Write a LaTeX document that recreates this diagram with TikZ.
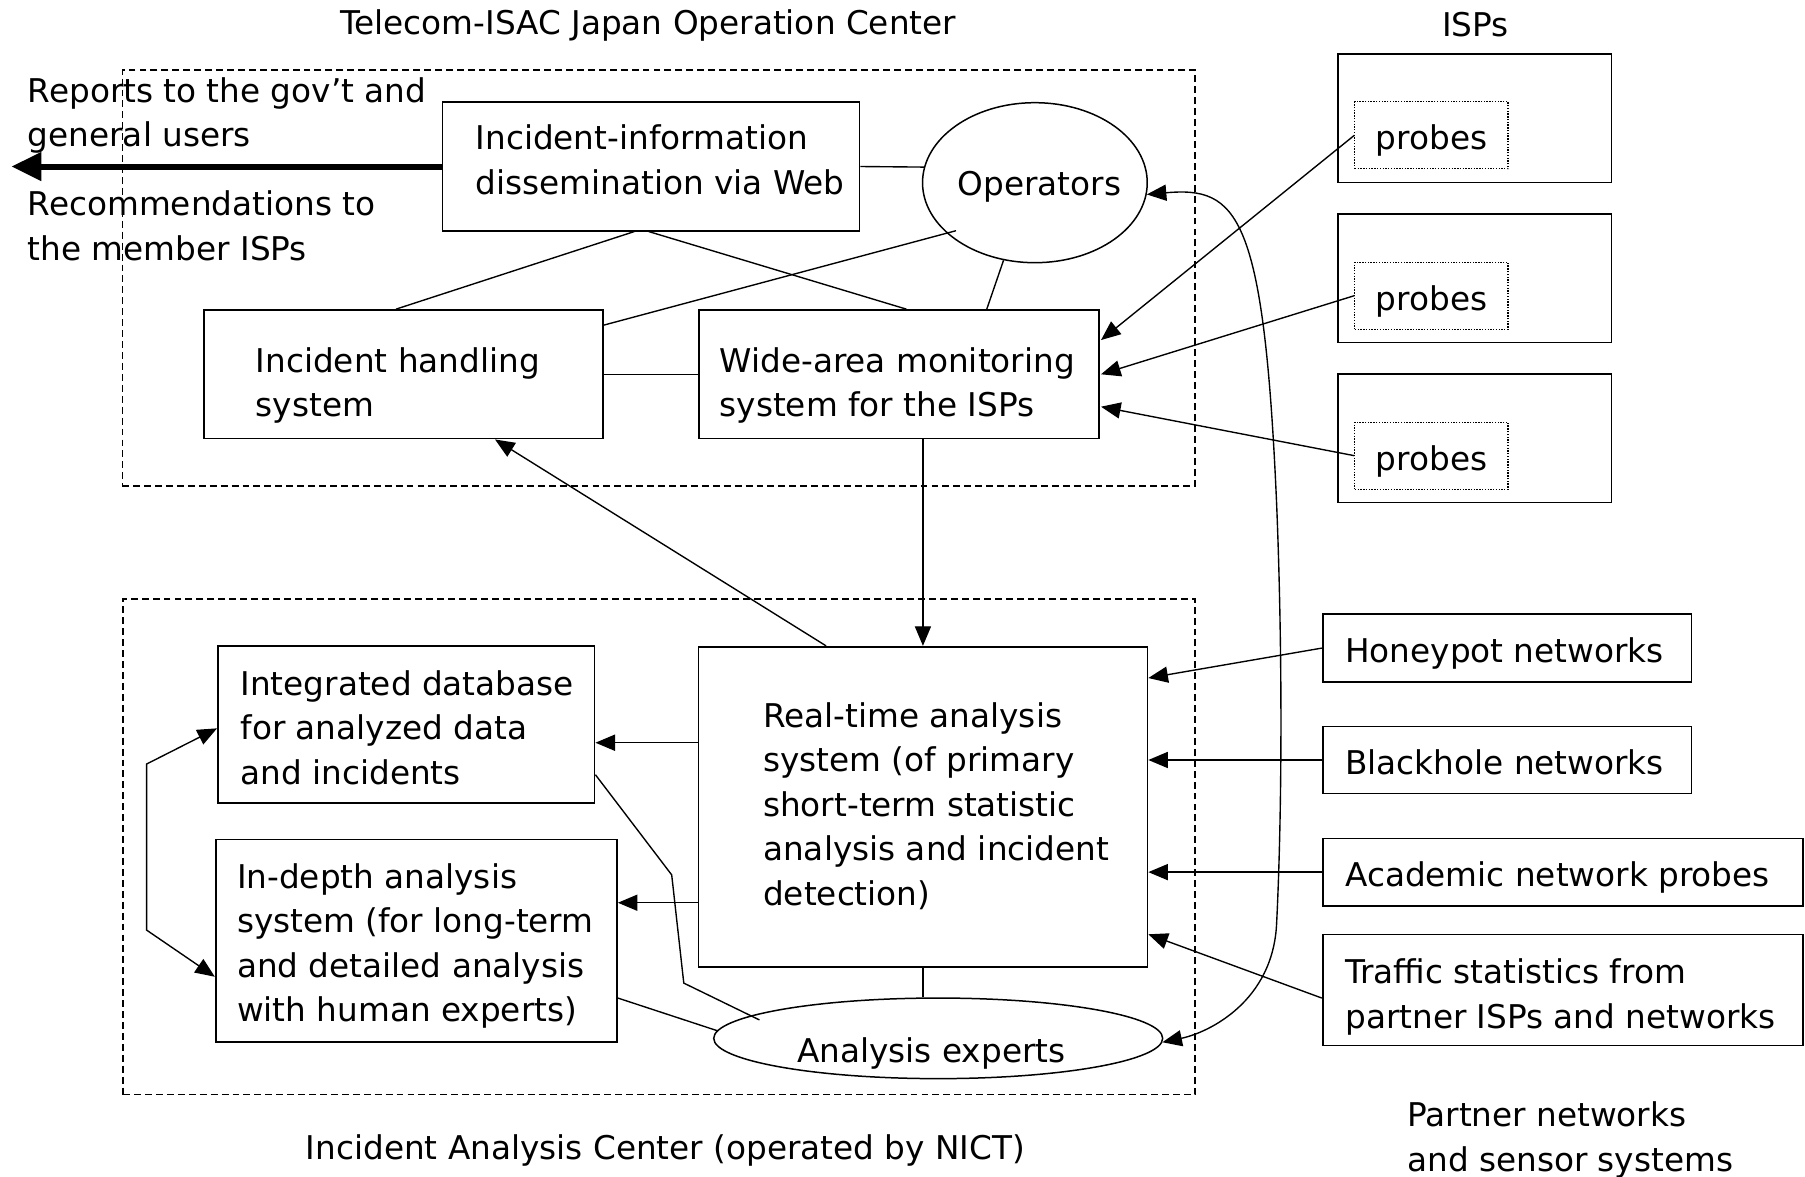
\documentclass[tikz,border=0pt]{standalone}
\usepackage{fontspec}
\setmainfont{DejaVu Sans}
\usetikzlibrary{arrows.meta,shapes.geometric,calc}
\begin{document}
\begin{tikzpicture}[x=1pt,y=-1pt,
  every node/.style={font=\fontsize{28.4}{38.7}\selectfont},
  box/.style={draw,line width=1.5pt,inner sep=0pt},
  txt/.style={inner sep=0pt,align=left,anchor=west},
  lbl/.style={inner sep=0pt},
  ell/.style={draw,ellipse,line width=1.3pt,inner sep=0pt},
  grp/.style={draw,line width=1.2pt,dash pattern=on 6pt off 3.5pt,inner sep=0pt},
  probebox/.style={draw,line width=1pt,dash pattern=on 1.2pt off 1.2pt,inner sep=0pt,minimum width=133pt,minimum height=58.3pt,text height=25pt,text depth=0pt},
  conn/.style={line width=1.2pt},
  arr/.style={conn,-{Triangle[length=17pt,width=14pt]}},
  darr/.style={conn,{Triangle[length=17pt,width=14pt]}-{Triangle[length=17pt,width=14pt]}},
  thickarr/.style={line width=5.2pt,-{Triangle[length=26pt,width=24pt]}}
]
\fill[white] (0,0) rectangle (1568,1021.6);
\useasboundingbox (0,0) rectangle (1568,1021.6);

% groups
\node[grp,minimum width=931.8pt,minimum height=361.4pt] (opc) at (572.1,241.5) {};
\node[grp,minimum width=931pt,minimum height=430.6pt] (iac) at (572.5,735.7) {};

% titles
\node[lbl] (opc-t) at (563,22) {Telecom-ISAC Japan Operation Center};
\node[lbl] (isp-t) at (1281.7,21.7) {ISPs};
\node[lbl] (iac-t) at (578,999) {Incident Analysis Center (operated by NICT)};
\node[txt] (par-t) at (1222.3,990.5) {Partner networks\\and sensor systems};
\node[txt] (rep) at (24,100.2) {Reports to the gov’t and\\general users};
\node[txt] (rec) at (24,196.2) {Recommendations to\\the member ISPs};

% top section
\node[box,minimum width=362.1pt,minimum height=111.5pt] (web) at (565.55,144.65) {};
\node[txt] (web-t) at (413,138.7) {Incident-information\\dissemination via Web};
\node[ell,minimum width=195.2pt,minimum height=139pt] (ops) at (899,158.7) {};
\node[lbl] (ops-t) at (903,162.5) {Operators};
\node[box,minimum width=346.7pt,minimum height=111.7pt] (ih) at (350.35,325.15) {};
\node[txt] (ih-t) at (222,335) {Incident handling\\system};
\node[box,minimum width=347.7pt,minimum height=111.7pt] (wa) at (780.85,325.15) {};
\node[txt] (wa-t) at (625,335) {Wide-area monitoring\\system for the ISPs};

% ISPs
\node[box,minimum width=237.4pt,minimum height=111.5pt] (isp1) at (1281.3,102.85) {};
\node[box,minimum width=237.4pt,minimum height=111.5pt] (isp2) at (1281.3,241.8) {};
\node[box,minimum width=237.4pt,minimum height=111.5pt] (isp3) at (1281.3,380.8) {};
\node[probebox] (pr1) at (1243.5,117.55) {probes};
\node[probebox] (pr2) at (1243.5,256.85) {probes};
\node[probebox] (pr3) at (1243.5,395.85) {probes};

% bottom section
\node[box,minimum width=327.2pt,minimum height=136.1pt] (idb) at (352.9,629.25) {};
\node[txt] (idb-t) at (208.8,632) {Integrated database\\for analyzed data\\and incidents};
\node[box,minimum width=348.6pt,minimum height=175.7pt] (ida) at (361.7,817.05) {};
\node[txt] (ida-t) at (205.7,821.75) {In-depth analysis\\system (for long-term\\and detailed analysis\\with human experts)};
\node[box,minimum width=390.1pt,minimum height=278pt] (rta) at (801.75,700.8) {};
\node[txt] (rta-t) at (662.8,700.3) {Real-time analysis\\system (of primary\\short-term statistic\\analysis and incident\\detection)};
\node[ell,minimum width=390pt,minimum height=70pt] (ae) at (815,902) {};
\node[lbl] (ae-t) at (809,915) {Analysis experts};

% partners
\node[box,minimum width=320.3pt,minimum height=58.8pt] (hp) at (1309.15,563) {};
\node[txt] (hp-t) at (1168.4,568) {Honeypot networks};
\node[box,minimum width=320.3pt,minimum height=58.4pt] (bh) at (1309.15,660.2) {};
\node[txt] (bh-t) at (1168.4,662) {Blackhole networks};
\node[box,minimum width=417pt,minimum height=58.4pt] (acad) at (1357.5,757.6) {};
\node[txt] (acad-t) at (1168.4,762) {Academic network probes};
\node[box,minimum width=417pt,minimum height=96.4pt] (tr) at (1357.5,860.1) {};
\node[txt] (tr-t) at (1168.4,866) {Traffic statistics from\\partner ISPs and networks};

% coordinates
\coordinate (out) at (10,144.65);
\coordinate (b1) at (127.4,663.7);
\coordinate (b2) at (127.4,808);
\coordinate (c1) at (583.5,760);
\coordinate (c2) at (594,854);

% connectors top
\draw[thickarr] (web.west) -- (out);
\draw[conn] (web.east) -- (ops.172);
\draw[conn] ([xshift=-14.5pt]web.south) -- ([xshift=-6.35pt]ih.north);
\draw[conn] ([xshift=-2pt]web.south) -- ([xshift=6.5pt]wa.north);
\draw[conn] ([xshift=-68.5pt,yshift=-41.7pt]ops.center) -- ([yshift=-13.9pt]ih.north east);
\draw[conn] (ops.248) -- ([xshift=76.35pt]wa.north);
\draw[conn] (ih.east) -- (wa.west);
\draw[arr] (pr1.west) -- ([xshift=1pt,yshift=29.75pt]wa.east);
\draw[arr] (pr2.west) -- ([xshift=1pt]wa.east);
\draw[arr] (pr3.west) -- ([xshift=1pt,yshift=-28.15pt]wa.east);
\draw[arr] (wa.south -| rta.north) -- (rta.north);
\draw[arr] ([xshift=-84.15pt]rta.north) -- ([xshift=79.65pt]ih.south);
\draw[darr] (ops.-6) .. controls (1075,162) and (1098,185) .. (1109,438)
  .. controls (1114,560) and (1114,700) .. (1109,802)
  .. controls (1106,870) and (1050,897) .. (ae.-1);

% connectors bottom
\draw[arr] ([yshift=55.6pt]rta.west) coordinate (a1) -- (a1 -| idb.east);
\draw[arr] ([yshift=-83.4pt]rta.west) coordinate (a2) -- (a2 -| ida.east);
\draw[conn] (rta.south) -- (rta.south |- ae.north);
\draw[conn] ([yshift=-43.75pt]idb.east) -- (c1) -- (c2) -- ([xshift=-155.3pt,yshift=16pt]ae.center);
\draw[conn] ([yshift=-49.95pt]ida.east) -- (ae.178);
\draw[darr] ([yshift=-3.45pt]idb.west) -- (b1) -- (b2) -- ([yshift=-31.45pt]ida.west);

% partners to real-time
\draw[arr] (hp.west) -- ([yshift=111.8pt]rta.east);
\draw[arr] (bh.west) -- (bh.west -| rta.east);
\draw[arr] (acad.west) -- (acad.west -| rta.east);
\draw[arr] ([yshift=-6.9pt]tr.west) -- ([yshift=-110.8pt]rta.east);
\end{tikzpicture}
\end{document}
